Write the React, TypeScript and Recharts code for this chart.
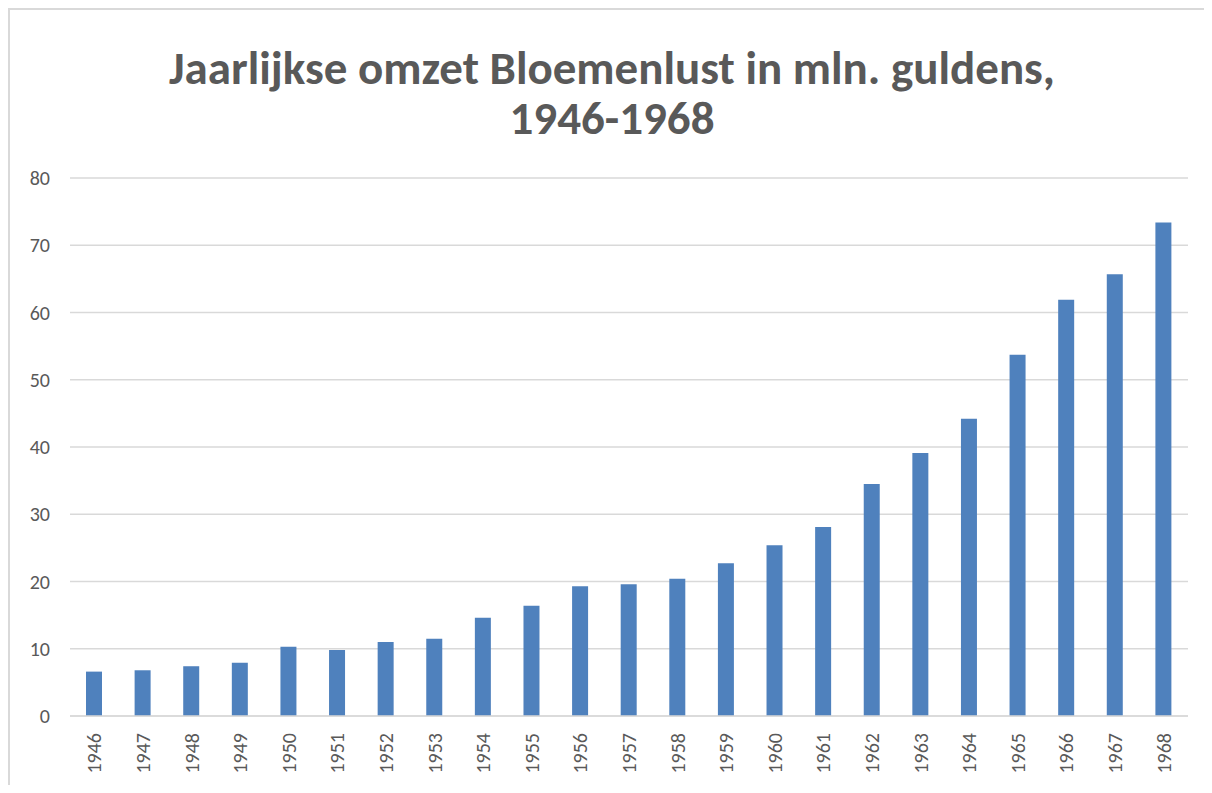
import React from "react";
import { BarChart, Bar, XAxis, YAxis, CartesianGrid } from "recharts";

const years = [
  "1946", "1947", "1948", "1949", "1950", "1951", "1952", "1953", "1954", "1955", "1956", "1957",
  "1958", "1959", "1960", "1961", "1962", "1963", "1964", "1965", "1966", "1967", "1968",
];

const omzet = [
  6.6, 6.8, 7.4, 7.9, 10.3, 9.8, 11.0, 11.5, 14.6, 16.4, 19.3, 19.6,
  20.4, 22.7, 25.4, 28.1, 34.5, 39.1, 44.2, 53.7, 61.9, 65.7, 73.4,
];

const yTicks = [0, 10, 20, 30, 40, 50, 60, 70, 80];

const titleLines = ["Jaarlijkse omzet Bloemenlust in mln. guldens,", "1946-1968"];

const data = years.map((year, i) => ({ year, omzet: omzet[i] }));

const FONT = "Carlito, Lato, 'Open Sans', sans-serif";
const TEXT = "#595959";

function YearTick(props: any) {
  const { x, y, payload } = props;
  return (
    <text
      x={0}
      y={0}
      transform={`translate(${x + 7},${y + 9}) rotate(-90)`}
      textAnchor="end"
      fill={TEXT}
      fontSize={20}
      fontFamily={FONT}
    >
      {payload.value}
    </text>
  );
}

export default function App() {
  return (
    <div
      style={{
        position: "relative",
        width: 1204,
        height: 777,
        background: "#fff",
        borderLeft: "2px solid #d9d9d9",
        borderTop: "2px solid #d9d9d9",
        boxSizing: "border-box",
        overflow: "hidden",
      }}
    >
      {titleLines.map((line, i) => (
        <div
          key={i}
          style={{
            position: "absolute",
            top: 36 + i * 50,
            left: 0,
            width: 1204,
            textAlign: "center",
            fontFamily: FONT,
            fontWeight: 700,
            fontSize: 47,
            lineHeight: "44px",
            color: TEXT,
          }}
        >
          {line}
        </div>
      ))}
      <div style={{ position: "absolute", top: -2, left: -2 }}>
        <BarChart
          width={1204}
          height={777}
          data={data}
          margin={{ top: 170, right: 24, bottom: 9, left: 0 }}
          barSize={16}
        >
          <CartesianGrid vertical={false} stroke="#d9d9d9" strokeWidth={1.3} />
          <XAxis
            dataKey="year"
            tick={<YearTick />}
            tickLine={false}
            axisLine={{ stroke: "#d9d9d9", strokeWidth: 1.3 }}
            interval={0}
            height={60}
          />
          <YAxis
            domain={[0, 80]}
            ticks={yTicks}
            width={62}
            tickLine={false}
            axisLine={false}
            tickSize={0}
            tickMargin={20}
            tick={{ fill: TEXT, fontSize: 20, fontFamily: FONT }}
          />
          <Bar dataKey="omzet" fill="#4f81bd" isAnimationActive={false} />
        </BarChart>
      </div>
    </div>
  );
}
